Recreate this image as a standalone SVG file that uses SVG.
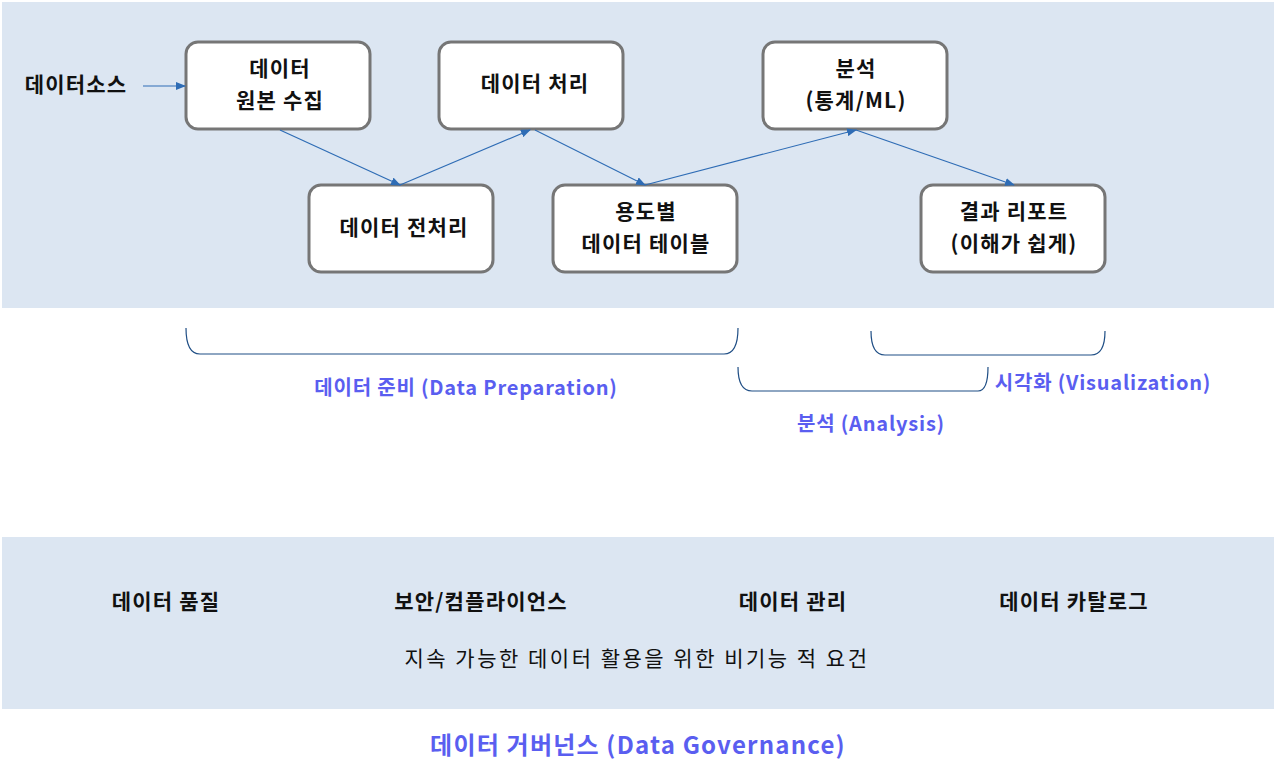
<svg xmlns="http://www.w3.org/2000/svg" width="1280" height="777" viewBox="0 0 1280 777">
<style>
.box{fill:#fff;stroke:#767676;stroke-width:3}
.t{font-family:"Noto Sans CJK KR","Noto Sans",sans-serif;font-size:21px;letter-spacing:1.2px;font-weight:bold;fill:#111;text-anchor:middle}
.b{font-family:"Noto Sans CJK KR","Noto Sans",sans-serif;font-size:20px;letter-spacing:0.8px;font-weight:bold;fill:#5a5ef0;text-anchor:middle}
.c{stroke:#2e6cb5;stroke-width:1.2;fill:none}
.br{stroke:#1f4e85;stroke-width:1.2;fill:none}
</style>
<defs><marker id="a" markerWidth="10" markerHeight="8" refX="9" refY="4" orient="auto" markerUnits="userSpaceOnUse"><path d="M0,0L10,4L0,8z" fill="#2e6cb5"/></marker></defs>
<rect x="2" y="2" width="1272" height="306" fill="#dce6f2"/>
<rect x="2" y="537" width="1272" height="172" fill="#dce6f2"/>
<g id="src"><text class="t" x="76" y="92">데이터소스</text></g>
<g id="n1"><rect class="box" x="186" y="42" width="184" height="87" rx="12"/><text class="t" x="280" y="76">데이터</text><text class="t" x="280" y="108">원본 수집</text></g>
<g id="n2"><rect class="box" x="439" y="42" width="184" height="87" rx="12"/><text class="t" x="535" y="91">데이터 처리</text></g>
<g id="n3"><rect class="box" x="763" y="42" width="184" height="87" rx="12"/><text class="t" x="856" y="76">분석</text><text class="t" x="856" y="108">(통계/ML)</text></g>
<g id="n4"><rect class="box" x="309" y="185" width="184" height="87" rx="12"/><text class="t" x="404" y="235">데이터 전처리</text></g>
<g id="n5"><rect class="box" x="553" y="185" width="184" height="87" rx="12"/><text class="t" x="646" y="219">용도별</text><text class="t" x="646" y="251">데이터 테이블</text></g>
<g id="n6"><rect class="box" x="921" y="185" width="184" height="87" rx="12"/><text class="t" x="1014" y="219">결과 리포트</text><text class="t" x="1014" y="251">(이해가 쉽게)</text></g>
<g id="connectors">
<line class="c" x1="143" y1="86" x2="185" y2="86" marker-end="url(#a)"/>
<line class="c" x1="280" y1="130" x2="400" y2="185" marker-end="url(#a)"/>
<line class="c" x1="400" y1="185" x2="530" y2="130" marker-end="url(#a)"/>
<line class="c" x1="535" y1="130" x2="645" y2="185" marker-end="url(#a)"/>
<line class="c" x1="645" y1="185" x2="856" y2="130" marker-end="url(#a)"/>
<line class="c" x1="856" y1="130" x2="1014" y2="185" marker-end="url(#a)"/>
</g>
<g id="braces">
<path class="br" d="M186,328 Q186,354 200,354 L724,354 Q738,354 738,328"/>
<path class="br" d="M738,367 Q738,391 752,391 L978,391 Q988,391 988,367"/>
<path class="br" d="M871,331 Q871,355 885,355 L1091,355 Q1105,355 1105,331"/>
</g>
<text class="b" x="466" y="395">데이터 준비 (Data Preparation)</text>
<text class="b" x="1103" y="390">시각화 (Visualization)</text>
<text class="b" x="871" y="431">분석 (Analysis)</text>
<text class="t" x="166" y="609">데이터 품질</text>
<text class="t" x="481" y="609">보안/컴플라이언스</text>
<text class="t" x="793" y="609">데이터 관리</text>
<text class="t" x="1074" y="609">데이터 카탈로그</text>
<text x="637" y="666" style="font-family:'Noto Sans CJK KR',sans-serif;font-size:21px;letter-spacing:2.5px;fill:#111;text-anchor:middle">지속 가능한 데이터 활용을 위한 비기능 적 요건</text>
<text class="b" x="638" y="754" style="font-size:24px;letter-spacing:1.2px">데이터 거버넌스 (Data Governance)</text>
</svg>
